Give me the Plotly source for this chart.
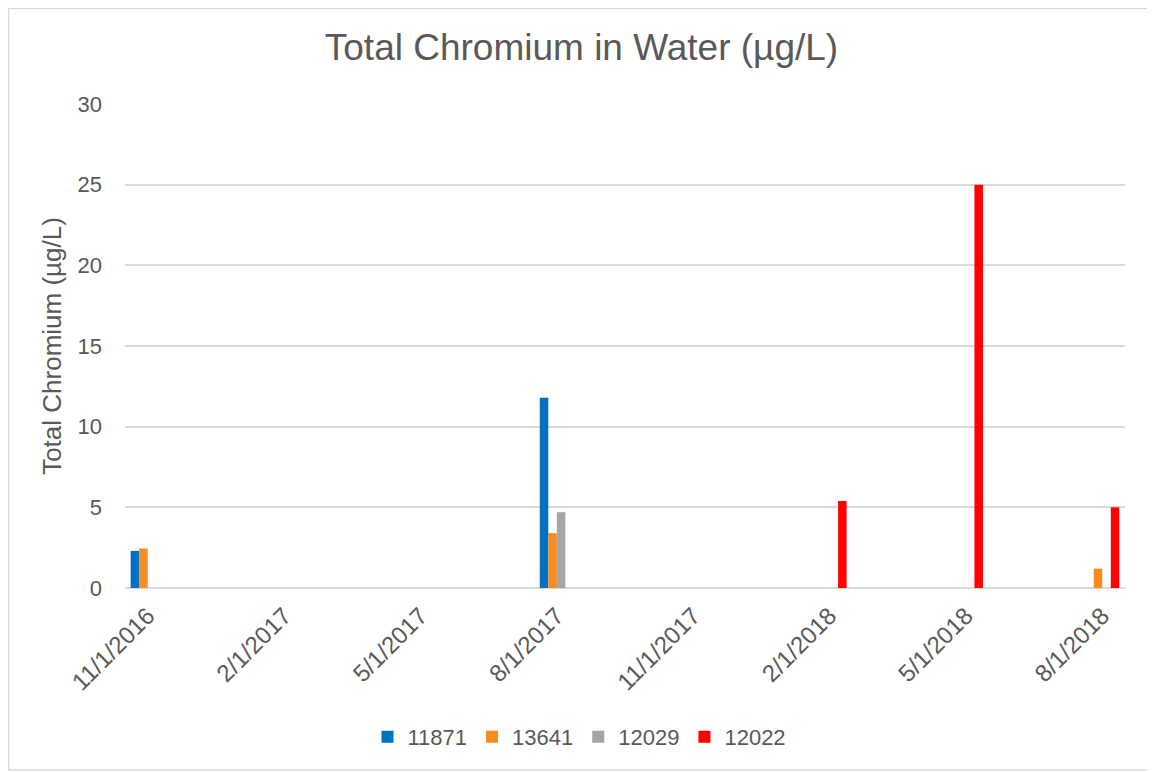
import pandas as pd
import plotly.graph_objects as go

# sampling dates and results per station (ug/L)
dates = ["11/1/2016", "8/1/2017", "2/1/2018", "5/1/2018", "8/1/2018"]
s11871 = [2.3, 11.8, None, None, None]
s13641 = [2.45, 3.4, None, None, 1.2]
s12029 = [None, 4.7, None, None, None]
s12022 = [None, None, 5.4, 25.0, 5.0]

tick_labels = ["11/1/2016", "2/1/2017", "5/1/2017", "8/1/2017",
               "11/1/2017", "2/1/2018", "5/1/2018", "8/1/2018"]

series = [("11871", s11871, "#0070C0"),
          ("13641", s13641, "#F68B1F"),
          ("12029", s12029, "#A5A5A5"),
          ("12022", s12022, "#FF0000")]


def month_idx(d):
    # month axis like excel's date axis with base unit = months
    t = pd.to_datetime(d, format="%m/%d/%Y")
    return (t.year - 2016) * 12 + t.month - 11


x = [month_idx(d) for d in dates]
tickvals = [month_idx(d) for d in tick_labels]

txt = "#595959"
fnt = "Liberation Sans, Arial, sans-serif"
bw = 0.1875  # bar width in months, 4 bars per month slot

fig = go.Figure()
for i, (name, vals, col) in enumerate(series):
    fig.add_trace(go.Bar(x=x, y=vals, name=name, marker_color=col,
                         marker_line_width=0, width=bw,
                         offset=-2 * bw + i * bw))

# page body has an 8px margin, so the figure is 8px smaller than the window
W, H = 1147, 764
ml, mt, mr, mb = 117, 96, 30, 184
pw, ph = W - ml - mr, H - mt - mb

fig.update_layout(
    width=W, height=H,
    barmode="overlay",
    plot_bgcolor="white", paper_bgcolor="white",
    font=dict(family=fnt, color=txt, size=22),
    title=dict(text="Total Chromium in Water (µg/L)", x=0.5, xanchor="center",
               y=1 - 39 / H, yanchor="middle", font=dict(size=37, color=txt)),
    margin=dict(l=ml, r=mr, t=mt, b=mb),
    legend=dict(orientation="h", x=0.4545, xanchor="center", y=-0.308,
                yanchor="middle", font=dict(size=22, color=txt),
                itemwidth=30, traceorder="normal"),
    xaxis=dict(range=[-0.5, 21.5], tickvals=tickvals, ticktext=tick_labels,
               tickangle=-45, showgrid=False, zeroline=False,
               showline=False, ticks="", ticklabelstandoff=8,
               tickfont=dict(size=24, color=txt)),
    yaxis=dict(range=[0, 30], dtick=5, showgrid=True, gridcolor="#D9D9D9",
               gridwidth=1.5, zeroline=True, zerolinecolor="#D9D9D9",
               zerolinewidth=1.5, ticks="", ticklabelstandoff=22,
               tickfont=dict(size=22, color=txt),
               title=dict(text="Total Chromium (µg/L)", standoff=8,
                          font=dict(size=26, color=txt))),
    shapes=[dict(type="rect", xref="paper", yref="paper",
                 x0=(0.5 - ml) / pw, x1=(W - 1.5 - ml) / pw,
                 y0=(ph + mt - (H - 2)) / ph, y1=(ph + mt - 0.5) / ph,
                 line=dict(color="#D9D9D9", width=1.5), layer="below")],
)

fig.write_html("out.html")
